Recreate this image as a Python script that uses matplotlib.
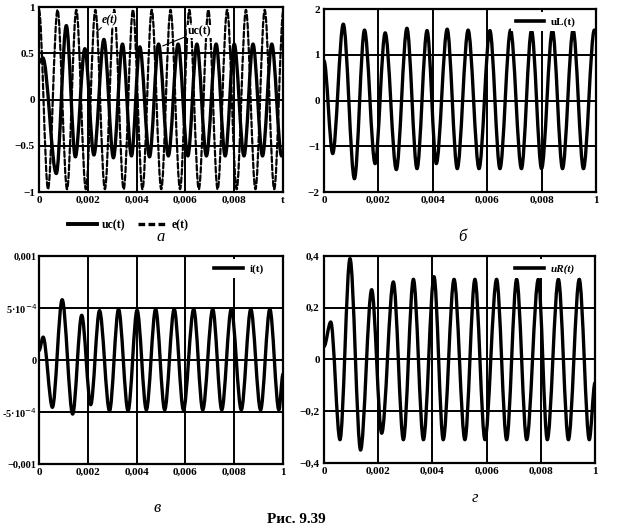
import matplotlib
matplotlib.use('Agg')
import matplotlib.pyplot as plt
from matplotlib.path import Path
from matplotlib.patches import PathPatch
from matplotlib.lines import Line2D

plt.rcParams['font.family'] = ['Liberation Serif', 'DejaVu Serif']

# time axis (s)
x_ticks = [0, 0.002, 0.004, 0.006, 0.008, 0.01]
x_labels = ['0', '0,002', '0,004', '0,006', '0,008', '1']

# extrema of each curve: times and values
uc_t = [0, 0.00016, 0.00071, 0.00112, 0.00149, 0.00188, 0.00225, 0.00266, 0.00305,
        0.00342, 0.00379, 0.00413, 0.00453, 0.0049, 0.0053, 0.0057, 0.0061, 0.00647,
        0.00686, 0.00726, 0.00763, 0.008, 0.0084, 0.00877, 0.00916, 0.00954, 0.00994, 0.01]
uc_v = [0.40, 0.45, -0.80, 0.80, -0.62, 0.55, -0.60, 0.65, -0.63, 0.60, -0.61, 0.57,
        -0.62, 0.60, -0.61, 0.60, -0.61, 0.60, -0.61, 0.60, -0.61, 0.60, -0.61, 0.60,
        -0.61, 0.60, -0.61, -0.58]

e_t = [0, 0.00037, 0.00076, 0.00115, 0.00153, 0.00192, 0.00231, 0.0027, 0.00308,
       0.00347, 0.00385, 0.00424, 0.00462, 0.00501, 0.00539, 0.00578, 0.00616, 0.00655,
       0.00694, 0.00732, 0.00771, 0.0081, 0.00848, 0.00887, 0.00925, 0.00964, 0.01002]
e_v = [0.97, -0.97, 0.97, -0.97, 0.97, -0.97, 0.97, -0.97, 0.97, -0.97, 0.97, -0.97,
       0.97, -0.97, 0.97, -0.97, 0.97, -0.97, 0.97, -0.97, 0.97, -0.97, 0.97, -0.97,
       0.97, -0.97, 0.97]

ul_t = [0, 0.00032, 0.00071, 0.00112, 0.00149, 0.00188, 0.00225, 0.00266, 0.00305,
        0.00342, 0.00379, 0.00413, 0.00453, 0.0049, 0.0053, 0.0057, 0.0061, 0.00647,
        0.00686, 0.00726, 0.00763, 0.008, 0.0084, 0.00877, 0.00916, 0.00954, 0.00994, 0.01]
ul_v = [0.87, -1.16, 1.67, -1.71, 1.54, -1.38, 1.48, -1.51, 1.58, -1.49, 1.53, -1.38,
        1.56, -1.49, 1.54, -1.49, 1.53, -1.49, 1.54, -1.49, 1.53, -1.49, 1.54, -1.49,
        1.54, -1.49, 1.54, 1.50]

i_t = [0, 0.00017, 0.00055, 0.00095, 0.00138, 0.00175, 0.00212, 0.00248, 0.00289,
       0.00326, 0.00365, 0.00402, 0.0044, 0.00478, 0.00515, 0.00554, 0.00592, 0.00634,
       0.00671, 0.00712, 0.00749, 0.00788, 0.00829, 0.00868, 0.00908, 0.00946, 0.00983, 0.01]
i_v = [0.9e-4, 2.2e-4, -4.55e-4, 5.8e-4, -5.2e-4, 4.3e-4, -4.3e-4, 4.75e-4, -4.9e-4,
       4.9e-4, -4.9e-4, 4.8e-4, -4.8e-4, 4.9e-4, -4.8e-4, 4.9e-4, -4.8e-4, 4.9e-4,
       -4.8e-4, 4.9e-4, -4.8e-4, 4.9e-4, -4.8e-4, 4.9e-4, -4.8e-4, 4.9e-4, -4.8e-4, -1.35e-4]

ur_t = [0, 0.00025, 0.00059, 0.00096, 0.00135, 0.00176, 0.00213, 0.00256, 0.00293,
        0.0033, 0.00367, 0.00406, 0.0044, 0.0048, 0.0052, 0.00557, 0.00594, 0.00637,
        0.00674, 0.00711, 0.00748, 0.00791, 0.00824, 0.00865, 0.00902, 0.00942, 0.00979, 0.01]
ur_v = [0.05, 0.145, -0.31, 0.39, -0.35, 0.27, -0.285, 0.30, -0.31, 0.31, -0.31, 0.32,
        -0.31, 0.31, -0.31, 0.31, -0.31, 0.31, -0.31, 0.31, -0.31, 0.31, -0.31, 0.31,
        -0.31, 0.31, -0.31, -0.09]


def wave_path(ts, vs):
    # smooth curve through the extrema (horizontal tangents at each one)
    verts = [(ts[0], vs[0])]
    codes = [Path.MOVETO]
    for k in range(1, len(ts)):
        d = (ts[k] - ts[k - 1]) / 3
        verts += [(ts[k - 1] + d, vs[k - 1]), (ts[k] - d, vs[k]), (ts[k], vs[k])]
        codes += [Path.CURVE4] * 3
    return Path(verts, codes)


def draw_wave(ax, ts, vs, **kw):
    ax.add_patch(PathPatch(wave_path(ts, vs), fill=False, capstyle='round',
                           joinstyle='round', **kw))


def setup_axes(ax, ylim, yticks, ylabels, xlast='1', ypad=3):
    ax.set_xlim(0, 0.01)
    ax.set_ylim(*ylim)
    ax.set_xticks(x_ticks)
    ax.set_xticklabels(x_labels[:-1] + [xlast])
    ax.set_yticks(yticks)
    ax.set_yticklabels(ylabels)
    ax.grid(True, color='k', lw=1.4)
    ax.tick_params(length=0, pad=3, labelsize=8)
    ax.tick_params(axis='y', pad=ypad)
    for lab in ax.get_xticklabels() + ax.get_yticklabels():
        lab.set_fontweight('bold')
    for sp in ax.spines.values():
        sp.set_linewidth(1.6)


def inner_legend(ax, label, italic=False):
    h = [Line2D([], [], color='k', lw=2.6)]
    leg = ax.legend(h, [label], loc='upper right', bbox_to_anchor=(0.955, 1.0),
                    frameon=True, framealpha=1, edgecolor='none', fancybox=False,
                    handlelength=2.6, handletextpad=0.6, borderaxespad=0.3,
                    prop={'size': 8, 'weight': 'bold',
                          'style': 'italic' if italic else 'normal'})
    return leg


fig = plt.figure(figsize=(6.17, 5.30), dpi=100)

# a: uc(t) and e(t)
ax_a = fig.add_axes([0.0632, 0.6377, 0.3955, 0.349])
setup_axes(ax_a, (-1, 1), [-1, -0.5, 0, 0.5, 1], ['−1', '−0.5', '0', '0.5', '1'], xlast='t')
draw_wave(ax_a, e_t, e_v, color='k', lw=1.6, linestyle=(0, (2.5, 1.2)))
draw_wave(ax_a, uc_t, uc_v, color='k', lw=2.4)
lbl_box = dict(boxstyle='square,pad=0.05', facecolor='white', edgecolor='none')
ax_a.annotate('e(t)', xy=(0.0024, 0.74), xytext=(0.00255, 0.86), fontsize=8.5,
              fontweight='bold', style='italic', ha='left', va='center', bbox=lbl_box,
              arrowprops=dict(arrowstyle='-', color='k', lw=0.8, shrinkA=1, shrinkB=0))
ax_a.annotate('uc(t)', xy=(0.00507, 0.58), xytext=(0.0061, 0.74), fontsize=8.5,
              fontweight='bold', ha='left', va='center', bbox=lbl_box,
              arrowprops=dict(arrowstyle='-', color='k', lw=0.8, shrinkA=1, shrinkB=0))
h_a = [Line2D([], [], color='k', lw=2.8), Line2D([], [], color='k', lw=2.4, linestyle=(0, (2, 1)))]
fig.legend(h_a, ['uc(t)', 'e(t)'], loc='center', bbox_to_anchor=(0.208, 0.575),
           ncol=2, frameon=False, handlelength=2.5, handletextpad=0.4, columnspacing=1.0,
           prop={'size': 8.5, 'weight': 'bold'})

# б: uL(t)
ax_b = fig.add_axes([0.5251, 0.6377, 0.4408, 0.3453])
setup_axes(ax_b, (-2, 2), [-2, -1, 0, 1, 2], ['−2', '−1', '0', '1', '2'])
draw_wave(ax_b, ul_t, ul_v, color='k', lw=2.4)
inner_legend(ax_b, 'uL(t)')

# в: i(t)
ax_c = fig.add_axes([0.0632, 0.1245, 0.3955, 0.3925])
setup_axes(ax_c, (-0.001, 0.001), [-0.001, -5e-4, 0, 5e-4, 0.001],
           ['−0,001', '-5·10$^{-4}$', '0', '5·10$^{-4}$', '0,001'], ypad=1.5)
for lab in ax_c.get_yticklabels():
    lab.set_fontsize(7.5)
draw_wave(ax_c, i_t, i_v, color='k', lw=2.4)
inner_legend(ax_c, 'i(t)')

# г: uR(t)
ax_d = fig.add_axes([0.5251, 0.1264, 0.4392, 0.3906])
setup_axes(ax_d, (-0.4, 0.4), [-0.4, -0.2, 0, 0.2, 0.4],
           ['−0,4', '−0,2', '0', '0,2', '0,4'])
draw_wave(ax_d, ur_t, ur_v, color='k', lw=2.4)
inner_legend(ax_d, 'uR(t)', italic=True)

# captions
fig.text(0.261, 0.553, 'а', fontsize=12, style='italic', ha='center', va='center')
fig.text(0.749, 0.553, 'б', fontsize=12, style='italic', ha='center', va='center')
fig.text(0.254, 0.042, 'в', fontsize=12, style='italic', ha='center', va='center')
fig.text(0.770, 0.060, 'г', fontsize=12, style='italic', ha='center', va='center')
fig.text(0.481, 0.019, 'Рис. 9.39', fontsize=11, fontweight='bold', ha='center', va='center')

fig.savefig('out.png', dpi=100)
